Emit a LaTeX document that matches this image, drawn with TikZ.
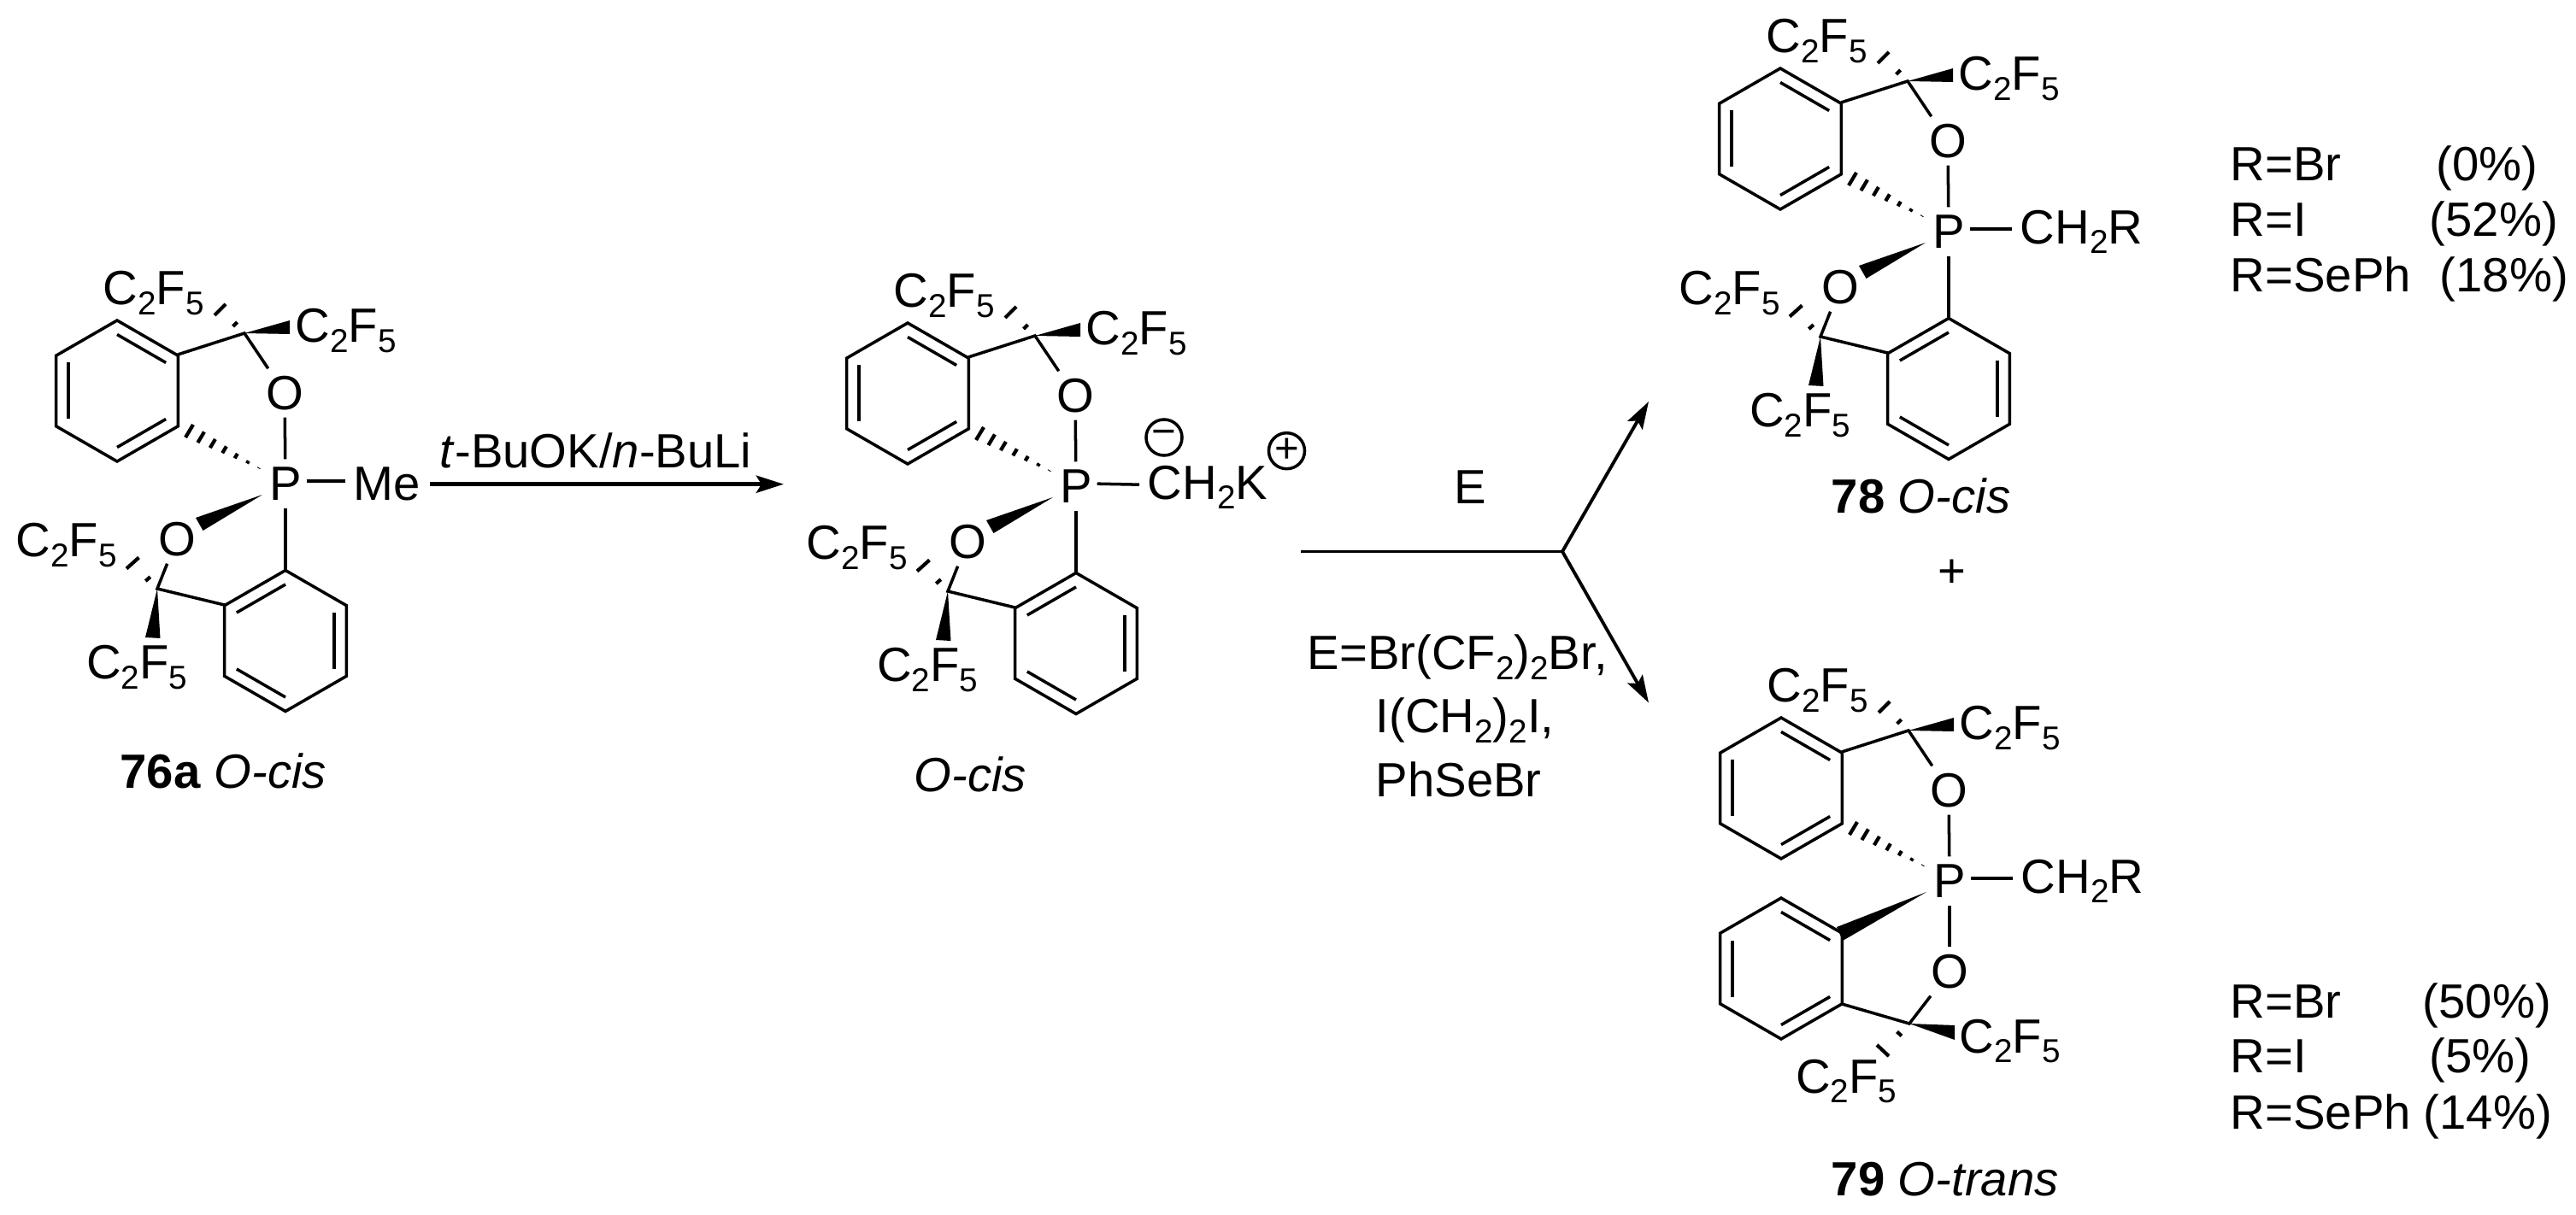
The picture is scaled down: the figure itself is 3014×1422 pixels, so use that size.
\documentclass[tikz,border=0pt]{standalone}
\usepackage{fontspec}
\usepackage{tikz}
\setmainfont{Liberation Sans}
\usetikzlibrary{arrows.meta}
\usetikzlibrary{calc}
\tikzset{bond/.style = {line width = 1pt}}
\tikzset{hashline/.style = {line width = 1.2pt}}
\tikzset{atom/.style = {rectangle, inner sep = 0, minimum width = 0.48cm, minimum height = 0.56cm}}
\tikzset{group/.style = {inner sep = 2.6pt}}
\tikzset{chemtext/.style = {anchor = base west, inner sep = 0, xshift = -0.03cm}}
\tikzset{charge/.style = {circle, draw, line width = 1pt, inner sep = 0, minimum size = 0.42cm, font = \fontsize{14}{14}\selectfont}}
\tikzset{rxn/.style = {line width = 1.1pt, -{Stealth[length = 0.32cm, width = 0.2cm, inset = 0.06cm]}}}
\newcommand{\chemsub}[1]{\raisebox{-0.2em}{\fontsize{11}{12}\selectfont #1}}
\newcommand{\cff}{C\chemsub{2}F\chemsub{5}}
\newcommand{\benzring}[2]{
      \begin{scope}[shift = {(#1)}, xscale = #2]
        \draw [bond] (-90:82.5) -- (-30:82.5) -- (30:82.5) -- (90:82.5) -- (150:82.5) -- (210:82.5) -- cycle;
        \foreach \a/\b in {-90/-30, 150/210, 90/30}
          \draw [bond] (\a:66) -- (\b:66);
      \end{scope}}
\newcommand{\wedgebond}[3]{\fill (#1) -- (#2) -- (#3) -- cycle;}
\newcommand{\hashbond}[4]{\foreach \t in {#4}
          \draw [hashline] ($(#1)!\t!(#2)$) -- ($(#1)!\t!(#3)$);}
\newcommand{\upperhalf}{
      \benzring{137, 457.5}{1}
      \node [atom] (O1) at (333, 460) {O};
      \coordinate (C1) at (286, 390);
      \coordinate (Ar1) at (208, 415);
      \draw [bond] (Ar1) -- (C1) -- (O1);
      \draw [bond] (O1) -- (P);
      \coordinate (Wa) at (339, 375);
      \coordinate (Wb) at (339, 391);
      \wedgebond{C1}{Wa}{Wb}
      \coordinate (Ha) at (264, 356);
      \coordinate (Hb) at (251, 369);
      \hashbond{C1}{Ha}{Hb}{0.38, 1}
      \coordinate (Tp) at (307, 550);
      \coordinate (Hc) at (226, 497);
      \coordinate (Hd) at (217, 512);
      \hashbond{Tp}{Hc}{Hd}{0.05, 0.2, 0.36, 0.52, 0.68, 0.84, 1}
      \node [chemtext] (CFa) at (123, 357) {\cff};
      \node [chemtext] (CFb) at (348, 401) {\cff};}
\newcommand{\lowerhalf}{
      \benzring{334, 750}{-1}
      \node [atom] (O2) at (207, 631) {O};
      \coordinate (C2) at (184, 689);
      \coordinate (Ar2) at (262.5, 708);
      \coordinate (Ar3) at (334, 668);
      \draw [bond] (Ar2) -- (C2) -- (O2);
      \draw [bond] (P) -- (Ar3);
      \coordinate (Tq) at (307, 579);
      \coordinate (We) at (229, 606);
      \coordinate (Wf) at (237.5, 621);
      \wedgebond{Tq}{We}{Wf}
      \coordinate (Wg) at (170, 746);
      \coordinate (Wh) at (187.5, 747);
      \wedgebond{C2}{Wg}{Wh}
      \coordinate (Hk) at (162.5, 652.5);
      \coordinate (Hl) at (148, 665.5);
      \hashbond{C2}{Hk}{Hl}{0.38, 1}
      \node [chemtext] (CFc) at (21, 652) {\cff};
      \node [chemtext] (CFd) at (103.5, 795) {\cff};}

\begin{document}
\begin{tikzpicture}[x=0.01cm, y=-0.01cm, font=\fontsize{16}{18}\selectfont]
      \useasboundingbox (0, 0) rectangle (3014, 1422);

      \begin{scope}[name prefix = a-]
        \node [atom] (P) at (334, 566) {P};
        \upperhalf
        \lowerhalf
        \node [group] (Me) at (453, 566) {Me};
        \draw [bond] ([yshift = 0.8pt]P.east) -- ([yshift = 0.8pt]Me.west);
        \node [chemtext] (name) at (143, 923) {\textbf{76a} \textit{O-cis}};
      \end{scope}

      \coordinate (arrS) at (503, 566.7);
      \coordinate (arrE) at (917, 566.7);
      \draw [rxn, line width = 1.5pt] (arrS) -- (arrE);
      \node [chemtext] (base) at (517, 548) {\textit{t}-BuOK/\textit{n}-BuLi};

      \begin{scope}[shift = {(925, 3)}, name prefix = b-]
        \node [atom] (P) at (334, 566) {P};
        \upperhalf
        \lowerhalf
        \node [group, anchor = west] (CK) at (408, 567) {CH\chemsub{2}K};
        \draw [bond] ([yshift = 0.8pt]P.east) -- ([yshift = 0.8pt]CK.west);
        \node [charge] (minus) at (437, 509) {\char"2212};
        \node [charge] (plus) at (580.5, 524.7) {+};
        \node [chemtext] (name) at (147, 923) {\textit{O-cis}};
      \end{scope}

      \coordinate (brA) at (1522, 645.5);
      \coordinate (brO) at (1828, 645.5);
      \coordinate (brU) at (1929, 470);
      \coordinate (brD) at (1929, 822.5);
      \draw [bond, line width = 1.1pt] (brA) -- (brO);
      \draw [rxn] (brO) -- (brU);
      \draw [rxn] (brO) -- (brD);
      \node [chemtext] (elec) at (1704, 590) {E};
      \node [chemtext] (ea) at (1532, 784) {E=Br(CF\chemsub{2})\chemsub{2}Br,};
      \node [chemtext] (eb) at (1612, 858) {I(CH\chemsub{2})\chemsub{2}I,};
      \node [chemtext] (ec) at (1612, 933) {PhSeBr};

      \begin{scope}[shift = {(1946, -295)}, name prefix = c-]
        \node [atom] (P) at (334, 566) {P};
        \upperhalf
        \lowerhalf
        \node [group, anchor = west] (CR) at (408, 566) {CH\chemsub{2}R};
        \draw [bond] ([yshift = 0.8pt]P.east) -- ([yshift = 0.8pt]CR.west);
      \end{scope}
      \node [chemtext] (nameA) at (2145, 601) {\textbf{78} \textit{O-cis}};
      \node (plusA) at (2284, 671) {+};

      \begin{scope}[shift = {(1947, 465)}, name prefix = d-]
        \node [atom] (P) at (334, 566) {P};
        \upperhalf
        \benzring{137, 668.5}{1}
        \node [atom] (O3) at (334, 672) {O};
        \coordinate (C3) at (287, 733);
        \coordinate (Ar4) at (208, 710);
        \draw [bond] (Ar4) -- (C3) -- (O3);
        \draw [bond] (P) -- (O3);
        \coordinate (Tr) at (307, 579);
        \coordinate (Wi) at (202, 620);
        \coordinate (Wj) at (209, 636);
        \wedgebond{Tr}{Wi}{Wj}
        \coordinate (Wk) at (340, 735);
        \coordinate (Wl) at (340, 752);
        \wedgebond{C3}{Wk}{Wl}
        \coordinate (Hm) at (263, 771);
        \coordinate (Hn) at (249, 758);
        \hashbond{C3}{Hm}{Hn}{0.38, 1}
        \node [chemtext] (CFe) at (348, 767) {\cff};
        \node [chemtext] (CFf) at (156.5, 814) {\cff};
        \node [group, anchor = west] (CR) at (408, 566) {CH\chemsub{2}R};
        \draw [bond] ([yshift = 0.8pt]P.east) -- ([yshift = 0.8pt]CR.west);
      \end{scope}
      \node [chemtext] (nameB) at (2145, 1399) {\textbf{79} \textit{O-trans}};

      \foreach \n/\r/\y/\v/\x in {a/Br/212/0/2853, b/I/277/52/2845, c/SePh/342/18/2857,
                                  d/Br/1191/50/2837, e/I/1255/5/2845, f/SePh/1321/14/2838} {
        \node [chemtext] (r\n) at (2612, \y) {R=\r};
        \node [chemtext] (y\n) at (\x, \y) {(\v\%)};
      }
\end{tikzpicture}
\end{document}
